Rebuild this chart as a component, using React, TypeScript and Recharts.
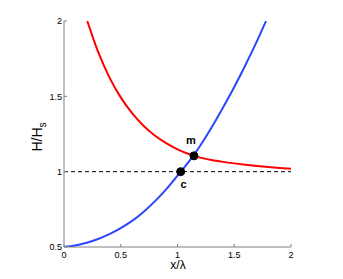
import React from "react";
import {
  LineChart,
  Line,
  XAxis,
  YAxis,
  ReferenceLine,
  ReferenceDot,
} from "recharts";

// values
const redX = [0.205, 0.3, 0.4, 0.5, 0.6, 0.7, 0.8, 0.9, 1.0, 1.1, 1.2, 1.3, 1.4, 1.5, 1.6, 1.7, 1.8, 1.9, 2.0];
const redY = [2.0, 1.796, 1.626, 1.493, 1.388, 1.305, 1.24, 1.189, 1.148, 1.117, 1.093, 1.077, 1.065, 1.055, 1.046, 1.038, 1.031, 1.025, 1.02];

const blueX = [0, 0.1, 0.2, 0.3, 0.4, 0.5, 0.6, 0.7, 0.8, 0.9, 1.0, 1.1, 1.2, 1.3, 1.4, 1.5, 1.6, 1.7, 1.78];
const blueY = [0.5, 0.51, 0.528, 0.553, 0.585, 0.625, 0.673, 0.733, 0.803, 0.883, 0.973, 1.066, 1.172, 1.293, 1.424, 1.562, 1.71, 1.866, 2.0];

const marks = [
  { x: 1.028, y: 1.0, name: "c", dx: 3, dy: 12 },
  { x: 1.145, y: 1.105, name: "m", dx: -3, dy: -16 },
];

const xTicks = [0, 0.5, 1, 1.5, 2];
const yTicks = [0.5, 1, 1.5, 2];

const redData = redX.map((x, i) => ({ x, y: redY[i] }));
const blueData = blueX.map((x, i) => ({ x, y: blueY[i] }));

const FONT = "'Liberation Sans', Arial, Helvetica, sans-serif";
const FRAME = "#808080";
const TICK = 3;

const BottomTick = (p: any) => (
  <g>
    <line x1={p.x} y1={p.y} x2={p.x} y2={p.y - TICK} stroke={FRAME} />
    <text x={p.x} y={p.y + 10.5} textAnchor="middle" fontSize={9} fontFamily={FONT} fill="#000">
      {p.payload.value}
    </text>
  </g>
);

const LeftTick = (p: any) => (
  <g>
    <line x1={p.x} y1={p.y} x2={p.x + TICK} y2={p.y} stroke={FRAME} />
    <text x={p.x - 2} y={p.y + 3.2} textAnchor="end" fontSize={9} fontFamily={FONT} fill="#000">
      {p.payload.value}
    </text>
  </g>
);

const TopTick = (p: any) => <line x1={p.x} y1={p.y} x2={p.x} y2={p.y + TICK} stroke={FRAME} />;
const RightTick = (p: any) => <line x1={p.x} y1={p.y} x2={p.x - TICK} y2={p.y} stroke={FRAME} />;

const dotLabel = (text: string, dx: number, dy: number) => (props: any) => {
  const vb = props.viewBox;
  const cx = vb.x + vb.width / 2;
  const cy = vb.y + vb.height / 2;
  return (
    <text
      x={cx + dx}
      y={cy + dy}
      textAnchor="middle"
      dominantBaseline="central"
      fontSize={11}
      fontWeight="bold"
      fontFamily={FONT}
      fill="#000"
    >
      {text}
    </text>
  );
};

export default function App() {
  return (
    <div style={{ position: "absolute", left: 0, top: 0, background: "#fff" }}>
      <LineChart width={343} height={279} margin={{ top: 21, right: 52, bottom: 0, left: 0 }}>
        <XAxis
          xAxisId="bottom"
          type="number"
          dataKey="x"
          domain={[0, 2]}
          ticks={xTicks}
          interval={0}
          height={32}
          tickSize={0}
          tickMargin={0}
          tickLine={false}
          axisLine={{ stroke: FRAME }}
          tick={BottomTick}
          label={() => (
            <text x={178} y={269} textAnchor="middle" fontSize={12} fontFamily={FONT} fill="#000">
              x/λ
            </text>
          )}
        />
        <XAxis
          xAxisId="top"
          orientation="top"
          type="number"
          dataKey="x"
          domain={[0, 2]}
          ticks={xTicks}
          interval={0}
          height={0}
          tickSize={0}
          tickMargin={0}
          tickLine={false}
          axisLine={{ stroke: FRAME }}
          tick={TopTick}
        />
        <YAxis
          yAxisId="left"
          type="number"
          domain={[0.5, 2]}
          ticks={yTicks}
          interval={0}
          width={64}
          allowDataOverflow
          tickSize={0}
          tickMargin={0}
          tickLine={false}
          axisLine={{ stroke: FRAME }}
          tick={LeftTick}
          label={() => (
            <text
              transform="translate(42,137) rotate(-90)"
              textAnchor="middle"
              fontSize={14}
              fontFamily={FONT}
              fill="#000"
            >
              H/H
              <tspan fontSize={10} dy={4}>
                s
              </tspan>
            </text>
          )}
        />
        <YAxis
          yAxisId="right"
          orientation="right"
          type="number"
          domain={[0.5, 2]}
          ticks={yTicks}
          interval={0}
          width={0}
          allowDataOverflow
          tickSize={0}
          tickMargin={0}
          tickLine={false}
          axisLine={{ stroke: FRAME }}
          tick={RightTick}
        />
        <ReferenceLine
          xAxisId="bottom"
          yAxisId="left"
          y={1}
          stroke="#000"
          strokeWidth={1}
          strokeDasharray="4 3"
        />
        <Line
          xAxisId="bottom"
          yAxisId="left"
          data={blueData}
          dataKey="y"
          type="monotone"
          stroke="#2a46ff"
          strokeWidth={2}
          dot={false}
          isAnimationActive={false}
        />
        <Line
          xAxisId="bottom"
          yAxisId="left"
          data={redData}
          dataKey="y"
          type="monotone"
          stroke="#ff0000"
          strokeWidth={2}
          dot={false}
          isAnimationActive={false}
        />
        {marks.map((m) => (
          <ReferenceDot
            key={m.name}
            xAxisId="bottom"
            yAxisId="left"
            x={m.x}
            y={m.y}
            r={4}
            fill="#000"
            stroke="#000"
            label={dotLabel(m.name, m.dx, m.dy)}
          />
        ))}
      </LineChart>
    </div>
  );
}
